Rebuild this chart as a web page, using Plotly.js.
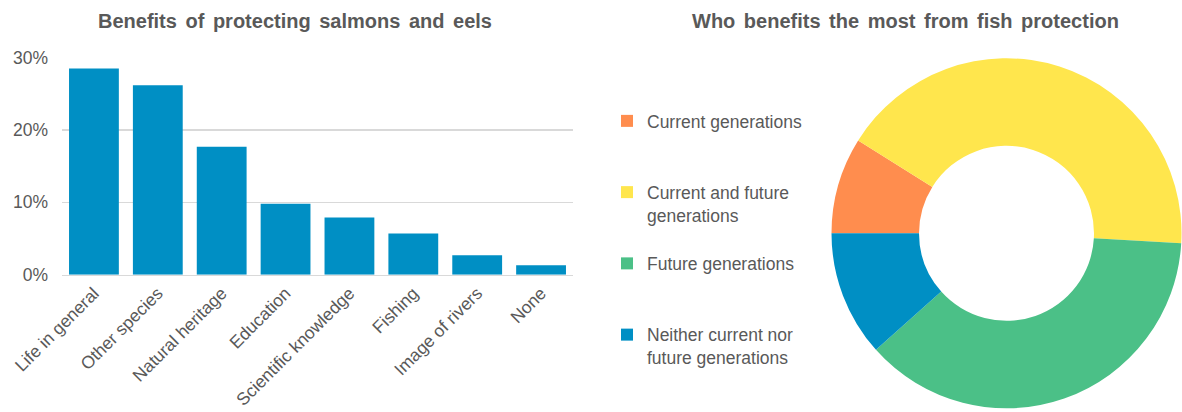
<!DOCTYPE html>
<html>
<head>
<meta charset="utf-8">
<script src="https://cdn.plot.ly/plotly-3.0.1.min.js"></script>
<style>
  html, body { margin: 0; padding: 0; background: #ffffff; }
  #chart { width: 1182px; height: 412px; }
  .annotation-text { word-spacing: 3px; }
</style>
</head>
<body>
<div id="chart"></div>
<script>
// ---- Data ----
const benefitCategories = ['Life in general', 'Other species', 'Natural heritage', 'Education',
  'Scientific knowledge', 'Fishing', 'Image of rivers', 'None'];
const benefitShares = [0.285, 0.262, 0.177, 0.098, 0.079, 0.057, 0.027, 0.013];
const yTickValues = [0, 0.1, 0.2, 0.3];
const yTickLabels = ['0%', '10%', '20%', '30%'];

const beneficiaryGroups = ['Current generations', 'Current and future<br>generations',
  'Future generations', 'Neither current nor<br>future generations'];
const beneficiaryShares = [8.9, 42.0, 37.5, 11.6];

const leftTitle = 'Benefits of protecting salmons and eels';
const rightTitle = 'Who benefits the most from fish protection';

// ---- Styling ----
const W = 1182, H = 412;
const grey = '#595959';
const fontFamily = '"Liberation Sans", Arial, sans-serif';
const barColor = '#008FC4';
const sliceColors = ['#FF8D4E', '#FFE64D', '#4BC087', '#008FC4'];

// pad legend entries so that they are spread like the reference (3 lines each)
const legendLabels = beneficiaryGroups.map((g, i) => {
  if (i === beneficiaryGroups.length - 1) return g;
  const n = g.split('<br>').length;
  let s = g;
  for (let k = n; k < 3; k++) s += '<br>&nbsp;';
  return s;
});

const px = v => v / W;
const py = v => 1 - v / H;

const barTrace = {
  type: 'bar',
  x: benefitCategories,
  y: benefitShares,
  marker: { color: barColor, line: { width: 0 } },
  xaxis: 'x', yaxis: 'y',
  showlegend: false,
  hoverinfo: 'x+y'
};

const pieTrace = {
  type: 'pie',
  labels: legendLabels,
  values: beneficiaryShares,
  sort: false,
  direction: 'clockwise',
  rotation: 270,
  hole: 0.5,
  textinfo: 'none',
  marker: { colors: sliceColors, line: { width: 0 } },
  domain: { x: [px(831.5), px(1181.5)], y: [py(408.3), py(58.3)] },
  showlegend: true
};

const layout = {
  width: W, height: H,
  margin: { l: 0, r: 0, t: 0, b: 0, pad: 0 },
  paper_bgcolor: '#ffffff',
  plot_bgcolor: '#ffffff',
  font: { family: fontFamily, color: grey, size: 17.5 },
  bargap: 0.22,
  xaxis: {
    domain: [px(62), px(573)],
    tickangle: -45,
    ticks: '',
    showline: true, linecolor: '#D9D9D9', linewidth: 1.5,
    showgrid: false, zeroline: false,
    tickfont: { family: fontFamily, size: 17.5, color: grey },
    automargin: false, fixedrange: true
  },
  yaxis: {
    domain: [py(274.7), py(57.7)],
    range: [0, 0.3],
    tickvals: yTickValues,
    ticktext: yTickLabels,
    ticks: '',
    showgrid: true, gridcolor: '#D9D9D9', gridwidth: 1.3,
    zeroline: false, showline: false,
    ticklabelstandoff: 13,
    tickfont: { family: fontFamily, size: 17.5, color: grey },
    automargin: false, fixedrange: true
  },
  showlegend: true,
  legend: {
    x: px(607), xanchor: 'left',
    y: py(103), yanchor: 'top',
    valign: 'top',
    bgcolor: 'rgba(0,0,0,0)',
    borderwidth: 0,
    font: { family: fontFamily, size: 17.5, color: grey },
    traceorder: 'normal'
  },
  annotations: [
    { text: '<b>' + leftTitle + '</b>', xref: 'paper', yref: 'paper',
      x: px(295), y: py(21), xanchor: 'center', yanchor: 'middle', showarrow: false,
      font: { family: fontFamily, size: 20, color: grey } },
    { text: '<b>' + rightTitle + '</b>', xref: 'paper', yref: 'paper',
      x: px(905), y: py(21), xanchor: 'center', yanchor: 'middle', showarrow: false,
      font: { family: fontFamily, size: 20, color: grey } }
  ]
};

Plotly.newPlot('chart', [barTrace, pieTrace], layout, { displayModeBar: false, staticPlot: true });
</script>
</body>
</html>
